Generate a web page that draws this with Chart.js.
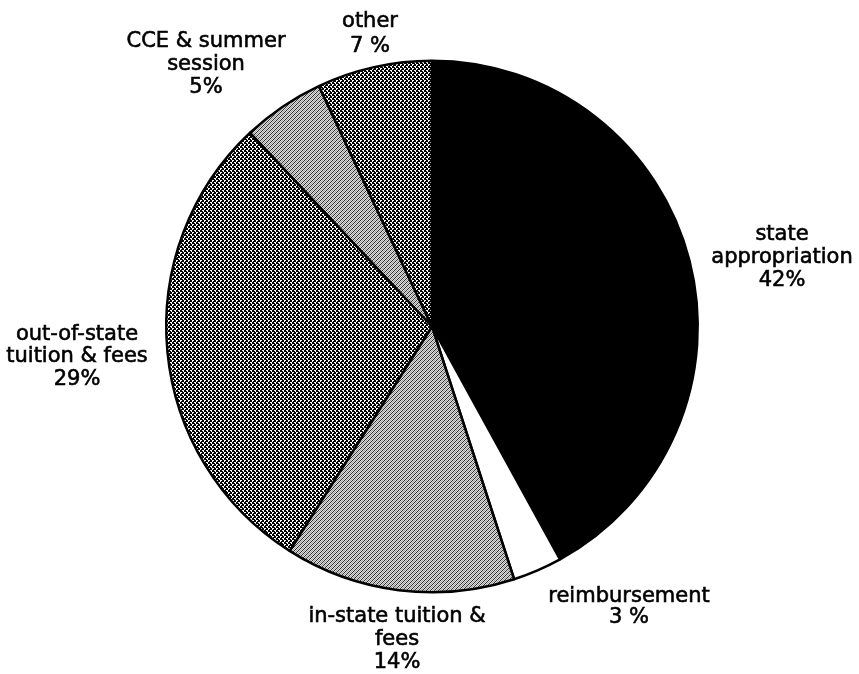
<!DOCTYPE html>
<html>
<head>
<meta charset="utf-8">
<script src="https://cdn.jsdelivr.net/npm/chart.js@4/dist/chart.umd.min.js"></script>
<style>
  html, body { margin: 0; padding: 0; background: #ffffff; }
  #wrap { width: 859px; height: 674px; position: relative; }
</style>
</head>
<body>
<div id="wrap"><canvas id="c" width="859" height="674"></canvas></div>
<script>
// ---- data ----
const categories = [
  "state appropriation",
  "reimbursement",
  "in-state tuition & fees",
  "out-of-state tuition & fees",
  "CCE & summer session",
  "other"
];
const shares = [42, 3, 14, 29, 5, 7];
const labelLines = [
  ["state", "appropriation", "42%"],
  ["reimbursement", "3 %"],
  ["in-state tuition &", "fees", "14%"],
  ["out-of-state", "tuition & fees", "29%"],
  ["CCE & summer", "session", "5%"],
  ["other", "7 %"]
];

// ---- styles ----
function makePattern(rows, colors) {
  const t = document.createElement('canvas');
  t.width = rows[0].length; t.height = rows.length;
  const g = t.getContext('2d');
  for (let y = 0; y < rows.length; y++) {
    for (let x = 0; x < rows[y].length; x++) {
      g.fillStyle = colors[rows[y][x]];
      g.fillRect(x, y, 1, 1);
    }
  }
  return g.createPattern(t, 'repeat');
}
const darkChecker = makePattern([
  "..##",
  ".###",
  "##..",
  "###."
], {"#": "#000000", ".": "#ffffff"});
const lightSpeckle = makePattern([
  "#.o.",
  ".o.#",
  "o.#.",
  ".#.o"
], {"#": "#303030", ".": "#dcdcdc", "o": "#a0a0a0"});

const fills = ["#000000", "#ffffff", lightSpeckle, darkChecker, lightSpeckle, darkChecker];

// label anchors, pixel offsets from pie centre (x, y of first line)
const labelOffsets = [
  [350, -92],
  [197, 270],
  [-35, 290],
  [-355, 8],
  [-226, -285],
  [-62, -305]
];
const lineGaps = [23, 21, 23, 22.5, 23, 25];

const labelPlugin = {
  id: 'pieLabels',
  afterDraw(chart) {
    const ctx = chart.ctx;
    const arc = chart.getDatasetMeta(0).data[0];
    const cx = arc.x, cy = arc.y;
    ctx.save();
    ctx.fillStyle = '#000';
    ctx.strokeStyle = '#000';
    ctx.lineWidth = 0.6;
    ctx.font = '21px "DejaVu Sans", sans-serif';
    ctx.textAlign = 'center';
    ctx.textBaseline = 'middle';
    labelLines.forEach((lines, i) => {
      const [dx, dy] = labelOffsets[i];
      lines.forEach((ln, j) => {
        ctx.fillText(ln, cx + dx, cy + dy + j * lineGaps[i]);
        ctx.strokeText(ln, cx + dx, cy + dy + j * lineGaps[i]);
      });
    });
    ctx.restore();
  }
};

new Chart(document.getElementById('c'), {
  type: 'pie',
  data: {
    labels: categories,
    datasets: [{
      data: shares,
      backgroundColor: fills,
      borderColor: '#000000',
      borderWidth: 2.5,
      hoverOffset: 0
    }]
  },
  options: {
    responsive: false,
    animation: false,
    events: [],
    layout: { padding: { left: 165, right: 160, top: 59, bottom: 80 } },
    plugins: {
      legend: { display: false },
      tooltip: { enabled: false }
    }
  },
  plugins: [labelPlugin]
});
</script>
</body>
</html>
